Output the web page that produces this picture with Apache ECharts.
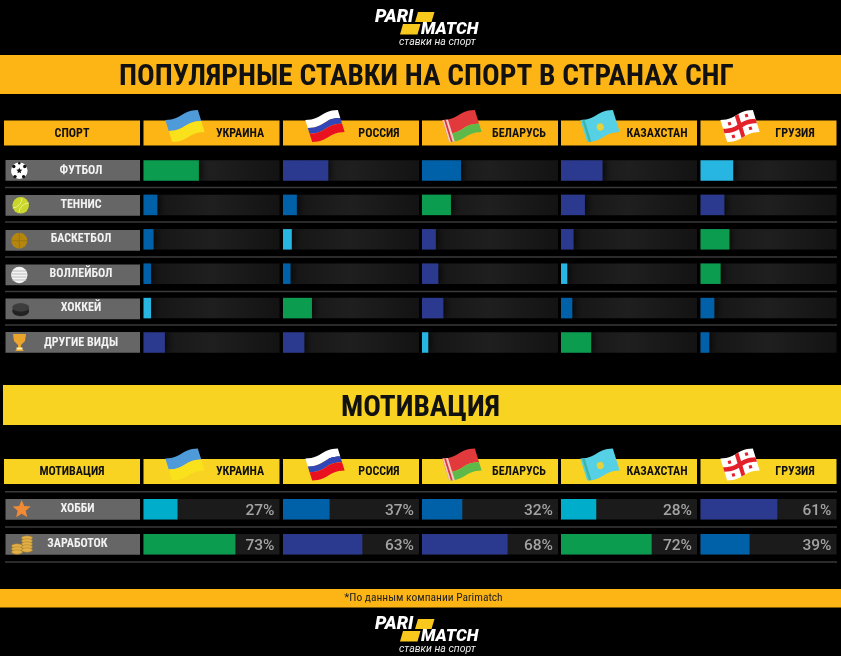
<!DOCTYPE html>
<html>
<head>
<meta charset="utf-8">
<title>Популярные ставки на спорт</title>
<script src="https://cdn.jsdelivr.net/npm/echarts@6/dist/echarts.min.js"></script>
<style>
html,body{margin:0;padding:0;background:#000;}
#main{width:841px;height:656px;}
</style>
</head>
<body>
<div id="main"></div>
<script>
// data, share of bets in %
var countries = ['УКРАИНА','РОССИЯ','БЕЛАРУСЬ','КАЗАХСТАН','ГРУЗИЯ'];
var sports = ['ФУТБОЛ','ТЕННИС','БАСКЕТБОЛ','ВОЛЛЕЙБОЛ','ХОККЕЙ','ДРУГИЕ ВИДЫ'];
var motives = ['ХОББИ','ЗАРАБОТОК'];

var ukraineSport = [44,11,8,6,6,17];
var russiaSport = [36,11,7,6,23,17];
var belarusSport = [31,23,11,13,17,5];
var kazakhstanSport = [33,19,10,5,9,24];
var georgiaSport = [26,19,23,16,11,7];

var ukraineMotive = [27,73];
var russiaMotive = [37,63];
var belarusMotive = [32,68];
var kazakhstanMotive = [28,72];
var georgiaMotive = [61,39];

var sportTable = [ukraineSport,russiaSport,belarusSport,kazakhstanSport,georgiaSport];
var motiveTable = [ukraineMotive,russiaMotive,belarusMotive,kazakhstanMotive,georgiaMotive];

// bar colours
var G = '#0b9c50', N = '#2b3a8e', B = '#0061a8', C = '#27b5e2', T = '#00aecb';
var sportColors = [[G,B,B,B,C,N],[N,B,C,B,G,N],[B,G,N,N,N,C],[N,N,N,C,B,G],[C,N,G,G,B,B]];
var motiveColors = [[T,G],[B,N],[B,N],[T,G],[N,B]];

var FONT = '"Roboto Condensed",sans-serif';
var columnX = [143.5,283,422,561,700.5];
var columnW = 136;
var AXIS_MAX = 108;
var ORANGE = '#fdb515', YELLOW = '#f8d322';

var el = [];

function rect(x,y,w,h,fill){
	el.push({type:'rect',shape:{x:x,y:y,width:w,height:h},style:{fill:fill}});
}
function hline(y){
	el.push({type:'rect',shape:{x:5,y:y-0.7,width:832,height:1.4},style:{fill:'#3a3a3a'}});
}
function label(txt,x,y,font,fill){
	el.push({type:'text',x:x,y:y,style:{text:txt,font:font,fill:fill,textAlign:'center',textVerticalAlign:'middle'}});
}

// wavy patch of a flag, t across the flag and f down it
function flagPatch(w,h,t0,t1,f0,f1,fill){
	var pts = [], n = 12, i, t;
	for(i = 0; i <= n; i++){
		t = t0+(t1-t0)*i/n;
		pts.push([-w/2+w*t, -h/2+h*f0+1.4*Math.sin(t*6.3)]);
	}
	for(i = n; i >= 0; i--){
		t = t0+(t1-t0)*i/n;
		pts.push([-w/2+w*t, -h/2+h*f1+1.4*Math.sin(t*6.3)]);
	}
	return {type:'polygon',shape:{points:pts},style:{fill:fill}};
}
function flag(name,cx,cy){
	var w = 34, h = 23, c = [];
	if(name == 'УКРАИНА'){
		c.push(flagPatch(w,h,0,1,0,0.5,'#4f9bd9'));
		c.push(flagPatch(w,h,0,1,0.5,1,'#f9e11c'));
	}
	if(name == 'РОССИЯ'){
		c.push(flagPatch(w,h,0,1,0,0.36,'#ffffff'));
		c.push(flagPatch(w,h,0,1,0.36,0.62,'#3346b8'));
		c.push(flagPatch(w,h,0,1,0.62,1,'#e9101f'));
	}
	if(name == 'БЕЛАРУСЬ'){
		c.push(flagPatch(w,h,0,1,0,0.62,'#e23a3c'));
		c.push(flagPatch(w,h,0,1,0.62,1,'#5cb94a'));
		c.push(flagPatch(w,h,0,0.16,0,1,'#f3c9c4'));
		c.push(flagPatch(w,h,0.05,0.1,0,1,'#d8393b'));
	}
	if(name == 'КАЗАХСТАН'){
		c.push(flagPatch(w,h,0,1,0,1,'#55d0e4'));
		c.push(flagPatch(w,h,0.05,0.12,0,1,'#3fb5a8'));
		c.push({type:'circle',shape:{cx:0,cy:1,r:3.6},style:{fill:'#e6d23a'}});
	}
	if(name == 'ГРУЗИЯ'){
		c.push(flagPatch(w,h,0,1,0,1,'#ffffff'));
		c.push(flagPatch(w,h,0.44,0.56,0,1,'#e3212b'));
		c.push(flagPatch(w,h,0,1,0.4,0.6,'#e3212b'));
		c.push(flagPatch(w,h,0.18,0.27,0.14,0.28,'#e3212b'));
		c.push(flagPatch(w,h,0.73,0.82,0.14,0.28,'#e3212b'));
		c.push(flagPatch(w,h,0.18,0.27,0.72,0.86,'#e3212b'));
		c.push(flagPatch(w,h,0.73,0.82,0.72,0.86,'#e3212b'));
	}
	el.push({type:'group',x:cx,y:cy,rotation:0.3,children:c});
}

function star(cx,cy,r,fill){
	var pts = [], i, a, q;
	for(i = 0; i < 10; i++){
		a = -Math.PI/2+i*Math.PI/5;
		q = i%2 ? r*0.45 : r;
		pts.push([cx+q*Math.cos(a),cy+q*Math.sin(a)]);
	}
	el.push({type:'polygon',shape:{points:pts},style:{fill:fill}});
}
function circle(cx,cy,r,fill){
	el.push({type:'circle',shape:{cx:cx,cy:cy,r:r},style:{fill:fill}});
}

function sportIcons(){
	// football
	circle(19.3,170.7,8.3,'#fff');
	star(19.3,170.7,3.2,'#111');
	circle(13.8,166.5,1.7,'#111');circle(24.8,166.5,1.7,'#111');
	circle(15,176.6,1.7,'#111');circle(23.6,176.6,1.7,'#111');circle(19.3,163.3,1.3,'#111');
	// tennis
	circle(20.7,205.3,8.3,'#c9d62c');
	el.push({type:'arc',shape:{cx:12,cy:198,r:10,startAngle:0,endAngle:1.5},style:{stroke:'#eef08a',fill:null,lineWidth:1}});
	el.push({type:'arc',shape:{cx:29,cy:213,r:10,startAngle:3.2,endAngle:4.7},style:{stroke:'#eef08a',fill:null,lineWidth:1}});
	// basketball
	circle(19.3,240.7,8,'#b5860f');
	el.push({type:'line',shape:{x1:11.5,y1:240.7,x2:27,y2:240.7},style:{stroke:'#94700d',lineWidth:0.7}});
	el.push({type:'line',shape:{x1:19.3,y1:233,x2:19.3,y2:248.5},style:{stroke:'#94700d',lineWidth:0.7}});
	// volleyball
	circle(19.3,275,8.2,'#f4f4f4');
	[271,274,277,280].forEach(function(y){
		el.push({type:'line',shape:{x1:12,y1:y,x2:26.6,y2:y},style:{stroke:'#b0b0b0',lineWidth:0.8}});
	});
	// puck
	el.push({type:'ellipse',shape:{cx:20.7,cy:311,rx:8.4,ry:5.2},style:{fill:'#222'}});
	el.push({type:'ellipse',shape:{cx:20.7,cy:307.5,rx:8.4,ry:4.2},style:{fill:'#3d3d3d'}});
	// trophy
	el.push({type:'polygon',shape:{points:[[13,334],[26,334],[25,341],[21,345],[21,348],[24,351],[15,351],[18,348],[18,345],[14,341]]},style:{fill:'#eba52d'}});
	el.push({type:'rect',shape:{x:16.5,y:347.5,width:6,height:2},style:{fill:'#fff1b0'}});
}
function motiveIcons(){
	star(21.7,509.5,9.5,'#f08a34');
	// coins
	[[27,538],[27,541],[27,544],[27,547],[27,550],[17,546],[17,549],[17,552]].forEach(function(p){
		el.push({type:'ellipse',shape:{cx:p[0],cy:p[1],rx:5.5,ry:2.2},style:{fill:'#e3b048',stroke:'#a07c24',lineWidth:0.5}});
	});
}

function logo(dy){
	el.push({type:'text',x:375,y:17+dy,style:{text:'PARI',font:'italic 900 18px Roboto',fill:'#fff',textVerticalAlign:'middle'}});
	el.push({type:'text',x:421,y:29.5+dy,style:{text:'MATCH',font:'italic 900 17px Roboto',fill:'#fff',textVerticalAlign:'middle'}});
	el.push({type:'polygon',shape:{points:[[418,12+dy],[434.5,12+dy],[431.5,22+dy],[415,22+dy]]},style:{fill:'#f8c81c'}});
	el.push({type:'polygon',shape:{points:[[403,24+dy],[420.5,24+dy],[417.5,34.5+dy],[400,34.5+dy]]},style:{fill:'#f8c81c'}});
	el.push({type:'text',x:399,y:42+dy,style:{text:'ставки на спорт',font:'italic 10.5px Roboto',fill:'#eee',textVerticalAlign:'middle'}});
}

function headerRow(first,y,fill,flagY){
	rect(4,y,136,25,fill);
	label(first,72,y+13,'bold 12px '+FONT,'#111');
	var textX = [240,379,519,657,795];
	var flagX = [185,325,462,600,740];
	countries.forEach(function(c,i){
		rect(columnX[i],y,columnW,25,fill);
		label(c,textX[i],y+13,'bold 12px '+FONT,'#111');
		flag(c,flagX[i],flagY);
	});
}

// bands and logos
logo(0);
rect(0,55,841,39,ORANGE);
rect(3,385,838,40,YELLOW);
rect(0,589,841,18.5,ORANGE);
logo(607);
label('*По данным компании Parimatch',423.5,598.5,'11.5px '+FONT,'#222');

headerRow('СПОРТ',120.5,ORANGE,126);
headerRow('МОТИВАЦИЯ',459,YELLOW,464.5);

// grey pills behind the row names
[160,195,230,264.5,298.5,332].forEach(function(y){rect(5.5,y,134.5,20.7,'#666');});
[499,534].forEach(function(y){rect(5.5,y,134.5,20.7,'#666');});
[187.5,222,257,291.5,325].forEach(hline);
[491.8,527,562].forEach(hline);
sportIcons();
motiveIcons();

// one grid per country per panel
var grids = [], xAxes = [], yAxes = [], series = [];
var trackFill = new echarts.graphic.LinearGradient(0,0,1,0,[
	{offset:0,color:'#141414'},{offset:0.5,color:'#1f1f1f'},{offset:1,color:'#131313'}
]);

function addPanel(values,colors,names,top,height,margin,flat){
	values.forEach(function(vals,i){
		var g = grids.length;
		grids.push({left:columnX[i],width:columnW,top:top,height:height,show:false});
		xAxes.push({gridIndex:g,type:'value',min:0,max:AXIS_MAX,show:false});
		yAxes.push({
			gridIndex:g,type:'category',inverse:true,data:names,
			axisLine:{show:false},axisTick:{show:false},splitLine:{show:false},
			axisLabel:{show:i == 0,margin:margin,align:'center',verticalAlign:'middle',color:'#f2f2f2',fontFamily:FONT,fontWeight:'bold',fontSize:12}
		});
		series.push({
			type:'bar',xAxisIndex:g,yAxisIndex:g,barWidth:20.5,silent:true,
			showBackground:true,
			backgroundStyle:{color:flat ? '#1b1b1b' : trackFill},
			data:vals.map(function(v,k){
				return {value:v,itemStyle:{
					color:colors[i][k],
					shadowColor:flat ? 'transparent' : 'rgba(0,0,0,0.6)',
					shadowBlur:flat ? 0 : 6,
					shadowOffsetX:flat ? 0 : 3
				}};
			})
		});
		if(flat){
			// invisible full-length bar, only carries the % text at the right end
			series.push({
				type:'bar',xAxisIndex:g,yAxisIndex:g,barWidth:20.5,barGap:'-100%',silent:true,
				itemStyle:{color:'transparent'},
				label:{
					show:true,position:'insideRight',distance:5,offset:[0,1.5],
					color:'#a3a3a3',fontFamily:'Roboto',fontWeight:500,fontSize:15.5,
					formatter:function(p){return vals[p.dataIndex]+'%';}
				},
				data:vals.map(function(){return AXIS_MAX;})
			});
		}
	});
}
addPanel(sportTable,sportColors,sports,153.3,206.4,62.5,false);
addPanel(motiveTable,motiveColors,motives,491.8,70,66,true);

var myChart = echarts.init(document.getElementById('main'),null,{renderer:'canvas'});
myChart.setOption({
	animation:false,
	backgroundColor:'#000',
	title:[
		{text:'ПОПУЛЯРНЫЕ СТАВКИ НА СПОРТ В СТРАНАХ СНГ',left:114,top:58,textStyle:{color:'#111',fontFamily:FONT,fontWeight:'bold',fontSize:29.3}},
		{text:'МОТИВАЦИЯ',left:'center',top:389,textStyle:{color:'#111',fontFamily:FONT,fontWeight:'bold',fontSize:29.3}}
	],
	graphic:{elements:el},
	grid:grids,
	xAxis:xAxes,
	yAxis:yAxes,
	series:series
});
</script>
</body>
</html>
